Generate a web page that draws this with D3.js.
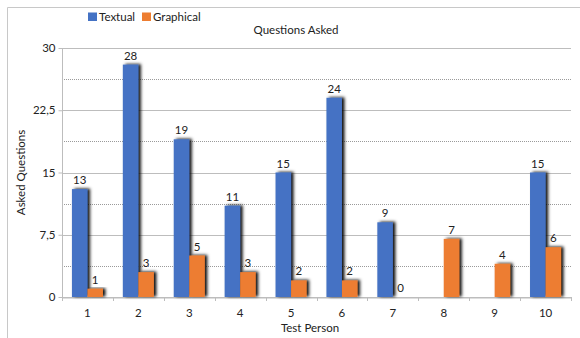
<!DOCTYPE html>
<html>
<head>
<meta charset="utf-8">
<script src="https://cdn.jsdelivr.net/npm/d3@7"></script>
<style>
  html, body { margin: 0; padding: 0; background: #fff; }
  svg { display: block; font-family: Lato, "Open Sans", sans-serif; }
</style>
</head>
<body>
<svg id="chart" width="580" height="338"></svg>
<script>
// Questions asked per test person, split by interface type
const persons = ["1", "2", "3", "4", "5", "6", "7", "8", "9", "10"];
const textual = [13, 28, 19, 11, 15, 24, 9, null, null, 15];
const graphical = [1, 3, 5, 3, 2, 2, 0, 7, 4, 6];
const seriesNames = ["Textual", "Graphical"];
const seriesColors = ["#4472C4", "#ED7D31"];
const majorTicks = [0, 7.5, 15, 22.5, 30];
const minorTicks = [3.75, 11.25, 18.75, 26.25];

const svg = d3.select("#chart");
const W = 580, H = 338;
const plot = { left: 62, right: 571, top: 48, bottom: 297 };
const FS = 11.5;

// Chart frame
svg.append("path")
  .attr("d", `M7.5,${H} V7.5 H${W}`)
  .attr("fill", "none").attr("stroke", "#c8c8c8").attr("stroke-width", 1);

// Shadow filter for the bars
const defs = svg.append("defs");
const f = defs.append("filter").attr("id", "shadow")
  .attr("x", "-50%").attr("y", "-20%").attr("width", "200%").attr("height", "140%");
f.append("feDropShadow").attr("dx", 2.5).attr("dy", -0.5).attr("stdDeviation", 1.8)
  .attr("flood-color", "#000").attr("flood-opacity", 0.95);

const x = d3.scaleBand().domain(persons).range([plot.left, plot.right]);
const inner = d3.scaleBand().domain(seriesNames)
  .range([0, x.bandwidth()]).paddingOuter(0.64);
const y = d3.scaleLinear().domain([0, 30]).range([plot.bottom, plot.top]);

// Gridlines
svg.append("g").selectAll("line").data(minorTicks).join("line")
  .attr("x1", plot.left).attr("x2", plot.right)
  .attr("y1", d => Math.round(y(d)) + 0.5).attr("y2", d => Math.round(y(d)) + 0.5)
  .attr("stroke", "#9a9a9a").attr("stroke-width", 1).attr("stroke-dasharray", "1,1");
svg.append("g").selectAll("line").data(majorTicks).join("line")
  .attr("x1", plot.left).attr("x2", plot.right)
  .attr("y1", d => Math.round(y(d)) + 0.5).attr("y2", d => Math.round(y(d)) + 0.5)
  .attr("stroke", "#bdbdbd").attr("stroke-width", 1);

// Y axis
const yAxis = svg.append("g").attr("transform", `translate(${plot.left + 0.5},0)`)
  .call(d3.axisLeft(y).tickValues(majorTicks).tickSize(4).tickPadding(3)
    .tickFormat(d => String(d).replace(".", ",")));
yAxis.select(".domain").attr("stroke", "#bdbdbd").attr("d", `M0,${plot.top}V${plot.bottom}`);
yAxis.selectAll(".tick line").attr("stroke", "#bdbdbd");
yAxis.selectAll(".tick text").attr("font-size", FS).attr("fill", "#222")
  .attr("font-family", "Lato, sans-serif");

// X axis
const xAxis = svg.append("g").attr("transform", `translate(0,${Math.round(plot.bottom) + 0.5})`)
  .call(d3.axisBottom(x).tickSize(0).tickPadding(11));
xAxis.select(".domain").attr("stroke", "#bdbdbd");
xAxis.selectAll(".tick text").attr("font-size", FS).attr("fill", "#222")
  .attr("font-family", "Lato, sans-serif");
svg.append("g").selectAll("line").data(d3.range(persons.length + 1)).join("line")
  .attr("x1", i => Math.round(plot.left + i * x.step()) + 0.5)
  .attr("x2", i => Math.round(plot.left + i * x.step()) + 0.5)
  .attr("y1", plot.bottom).attr("y2", plot.bottom + 4)
  .attr("stroke", "#bdbdbd");

// Bars
const rows = persons.map((p, i) => [
  { p, s: seriesNames[0], v: textual[i], c: seriesColors[0] },
  { p, s: seriesNames[1], v: graphical[i], c: seriesColors[1] }
]).flat().filter(d => d.v !== null);

svg.append("g").selectAll("rect").data(rows).join("rect")
  .attr("x", d => x(d.p) + inner(d.s))
  .attr("width", inner.bandwidth())
  .attr("y", d => y(d.v))
  .attr("height", d => y(0) - y(d.v))
  .attr("fill", d => d.c)
  .attr("filter", d => d.v > 0 ? "url(#shadow)" : null);

// Value labels
svg.append("g").selectAll("text").data(rows).join("text")
  .attr("x", d => x(d.p) + inner(d.s) + inner.bandwidth() / 2)
  .attr("y", d => y(d.v) - 5)
  .attr("text-anchor", "middle")
  .attr("font-size", FS).attr("fill", "#222")
  .text(d => d.v);

// Titles
svg.append("text").attr("x", 296).attr("y", 34).attr("text-anchor", "middle")
  .attr("font-size", FS).attr("fill", "#222").text("Questions Asked");
svg.append("text").attr("x", 310).attr("y", 332).attr("text-anchor", "middle")
  .attr("font-size", FS).attr("fill", "#222").text("Test Person");
svg.append("text")
  .attr("transform", `translate(25,${(plot.top + plot.bottom) / 2}) rotate(-90)`)
  .attr("text-anchor", "middle").attr("font-size", FS).attr("fill", "#222")
  .text("Asked Questions");

// Legend
const legend = svg.append("g").attr("transform", "translate(88,12.5)");
const li = legend.selectAll("g").data(seriesNames).join("g")
  .attr("transform", (d, i) => `translate(${i * 54},0)`);
li.append("rect").attr("width", 9).attr("height", 8.5).attr("fill", (d, i) => seriesColors[i]);
li.append("text").attr("x", 11).attr("y", 8.5).attr("font-size", FS).attr("fill", "#222").text(d => d);
</script>
</body>
</html>
